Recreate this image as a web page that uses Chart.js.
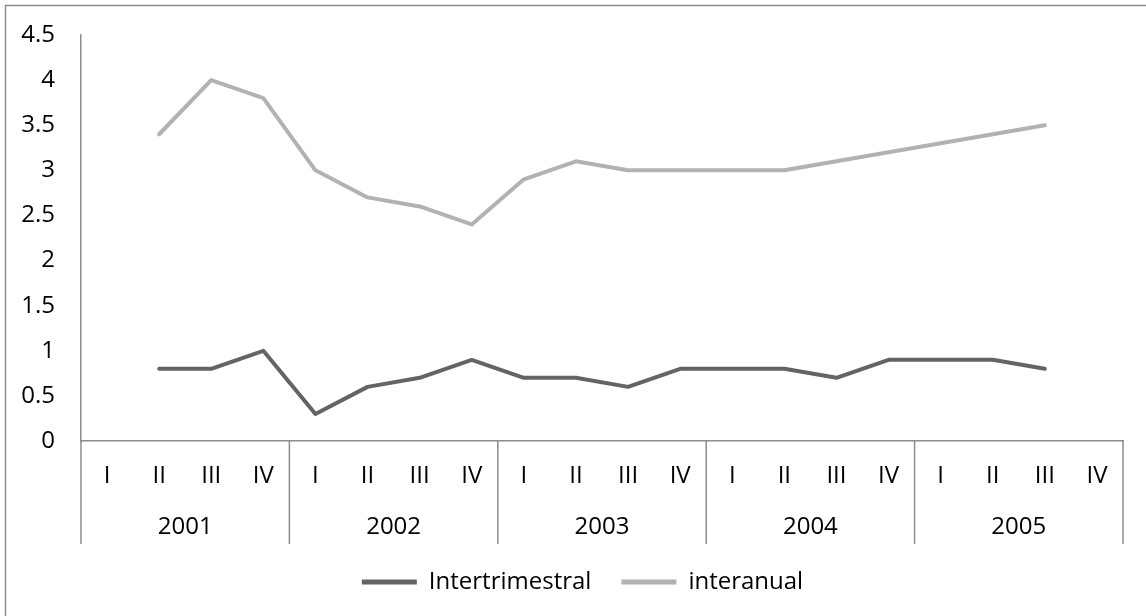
<!DOCTYPE html>
<html>
<head>
<meta charset="utf-8">
<script src="https://cdn.jsdelivr.net/npm/chart.js@4.4.1/dist/chart.umd.min.js"></script>
<style>
  html, body { margin: 0; padding: 0; background: #ffffff; }
  #wrap { width: 1146px; height: 616px; position: relative; }
</style>
</head>
<body>
<div id="wrap"><canvas id="chart" width="1146" height="616"></canvas></div>
<script>
// Quarters and years for the two-level category axis
const quarters = ['I', 'II', 'III', 'IV'];
const years = ['2001', '2002', '2003', '2004', '2005'];
const categories = years.flatMap(y => quarters.map(q => q + ' ' + y));

// Growth rates (%) per quarter
const intertrimestral = [null, 0.8, 0.8, 1.0, 0.3, 0.6, 0.7, 0.9, 0.7, 0.7, 0.6, 0.8, 0.8, 0.8, 0.7, 0.9, 0.9, 0.9, 0.8, null];
const interanual = [null, 3.4, 4.0, 3.8, 3.0, 2.7, 2.6, 2.4, 2.9, 3.1, 3.0, 3.0, 3.0, 3.0, 3.1, 3.2, 3.3, 3.4, 3.5, null];

// Y axis ticks
const yTicks = [0, 0.5, 1, 1.5, 2, 2.5, 3, 3.5, 4, 4.5];

const FONT = '"Open Sans", "Noto Sans", sans-serif';
const FONT_SIZE = 24;
const AXIS_GRAY = '#8c8c8c';
const DARK = '#646464';
const LIGHT = '#b2b2b2';

// Outer frame, legend placement and the year separators of the category axis
const framePlugin = {
  id: 'frame',
  afterLayout(chart) {
    const lg = chart.legend;
    lg.left += 21;
    lg.right += 21;
    lg.top -= 4;
    lg.bottom -= 4;
  },
  beforeDraw(chart) {
    const ctx = chart.ctx;
    ctx.save();
    ctx.fillStyle = '#ffffff';
    ctx.fillRect(0, 0, chart.width, chart.height);
    ctx.strokeStyle = '#8c8c8c';
    ctx.lineWidth = 1.5;
    ctx.strokeRect(5.5, 5.5, chart.width + 20, chart.height + 20);
    ctx.restore();
  },
  afterDraw(chart) {
    const ctx = chart.ctx;
    const xs = chart.scales.x;
    const yr = chart.scales.years;
    const top = chart.chartArea.bottom;
    const bottom = yr.bottom;
    ctx.save();
    ctx.strokeStyle = AXIS_GRAY;
    ctx.lineWidth = 1.5;
    for (let i = 0; i <= years.length; i++) {
      let x;
      if (i === 0) x = chart.chartArea.left;
      else if (i === years.length) x = chart.chartArea.right;
      else x = (xs.getPixelForValue(i * 4 - 1) + xs.getPixelForValue(i * 4)) / 2;
      ctx.beginPath();
      ctx.moveTo(x, top);
      ctx.lineTo(x, bottom);
      ctx.stroke();
    }
    ctx.restore();
  }
};

new Chart(document.getElementById('chart'), {
  type: 'line',
  data: {
    labels: categories,
    datasets: [
      {
        label: 'Intertrimestral',
        data: intertrimestral,
        borderColor: DARK,
        backgroundColor: DARK,
        borderWidth: 4,
        pointRadius: 0,
        tension: 0,
        borderCapStyle: 'round',
        borderJoinStyle: 'round',
        spanGaps: false
      },
      {
        label: 'interanual',
        data: interanual,
        borderColor: LIGHT,
        backgroundColor: LIGHT,
        borderWidth: 4,
        pointRadius: 0,
        tension: 0,
        borderCapStyle: 'round',
        borderJoinStyle: 'round',
        spanGaps: false
      }
    ]
  },
  options: {
    responsive: false,
    animation: false,
    events: [],
    layout: { padding: { top: 35, right: 23, bottom: 8, left: 0 } },
    plugins: {
      tooltip: { enabled: false },
      legend: {
        position: 'bottom',
        labels: {
          color: '#000000',
          font: { family: FONT, size: FONT_SIZE },
          boxWidth: 55,
          boxHeight: 5,
          useBorderRadius: true,
          borderRadius: 2.5,
          padding: 30,
          generateLabels(chart) {
            return chart.data.datasets.map((ds, i) => ({
              text: ds.label,
              fillStyle: ds.borderColor,
              strokeStyle: ds.borderColor,
              lineWidth: 0,
              datasetIndex: i,
              hidden: false,
              fontColor: '#000000'
            }));
          }
        }
      }
    },
    scales: {
      y: {
        min: 0,
        max: 4.5,
        afterFit(scale) {
          scale.width = 81;
          scale.paddingTop = 0;
          scale.paddingBottom = 0;
        },
        afterBuildTicks(scale) { scale.ticks = yTicks.map(v => ({ value: v })); },
        ticks: {
          color: '#000000',
          font: { family: FONT, size: FONT_SIZE },
          padding: 26,
          callback: v => String(v)
        },
        grid: { display: false, drawTicks: false },
        border: { display: true, color: AXIS_GRAY, width: 1.5 }
      },
      x: {
        type: 'category',
        offset: true,
        afterFit(scale) { scale.height = 50; },
        ticks: {
          color: '#000000',
          font: { family: FONT, size: FONT_SIZE },
          padding: 21,
          autoSkip: false,
          maxRotation: 0,
          callback: (v, i) => categories[i].split(' ')[0]
        },
        grid: { display: false, drawTicks: false },
        border: { display: true, color: AXIS_GRAY, width: 1.5 }
      },
      years: {
        type: 'category',
        position: 'bottom',
        labels: years,
        offset: true,
        afterFit(scale) { scale.height = 53; },
        ticks: {
          color: '#000000',
          font: { family: FONT, size: FONT_SIZE },
          padding: 22,
          autoSkip: false,
          maxRotation: 0
        },
        grid: { display: false, drawTicks: false },
        border: { display: false }
      }
    }
  },
  plugins: [framePlugin]
});
</script>
</body>
</html>
